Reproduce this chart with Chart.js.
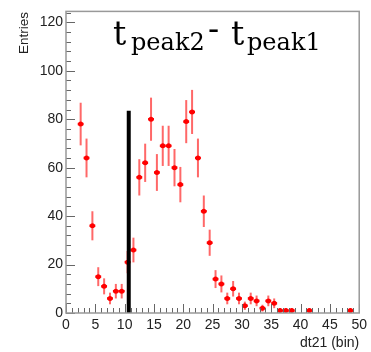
<!DOCTYPE html>
<html>
<head>
<meta charset="utf-8">
<script src="https://cdn.jsdelivr.net/npm/chart.js@4"></script>
<style>
  html, body { margin: 0; padding: 0; background: #fff; }
  #wrap { position: relative; width: 371px; height: 352px; }
  canvas { position: absolute; left: 0; top: 0; }
  .tt { position: absolute; font-family: "DejaVu Serif", serif; line-height: 1; white-space: nowrap; color: #000; }
  .big { font-size: 33px; }
  .small { font-size: 24px; }
  #ytitle { position: absolute; left: 17px; top: 54px; font: 13.5px "Liberation Sans", Arial, sans-serif; line-height: 13px; color: #222; white-space: nowrap; transform-origin: 0 0; transform: rotate(-90deg); }
</style>
</head>
<body>
<div id="wrap">
  <canvas id="c" width="371" height="352"></canvas>
  <span id="ytitle"></span>
  <span class="tt big" style="left:113px; top:17px;">t</span>
  <span class="tt small" style="left:131px; top:30px;">peak2</span>
  <span class="tt big" style="left:208px; top:12px;">-</span>
  <span class="tt big" style="left:231px; top:17px;">t</span>
  <span class="tt small" style="left:247px; top:30px;">peak1</span>
</div>
<script>
// ---- data ----
const binCenters = [2.5,3.5,4.5,5.5,6.5,7.5,8.5,9.5,10.5,11.5,12.5,13.5,14.5,15.5,16.5,17.5,18.5,19.5,20.5,21.5,22.5,23.5,24.5,25.5,26.5,27.5,28.5,29.5,30.5,31.5,32.5,33.5,34.5,35.5,36.5,37.5,38.5,41.5,48.5];
const counts     = [78,64,36,15,11,6,9,9,21,26,56,62,80,58,69,69,60,53,79,83,64,42,29,14,12,6,10,6,3,6,5,2,5,4,1,1,1,1,1];
const errors     = [8.8,8,6,3.9,3.3,2.4,3,3,4.6,5.1,7.5,7.9,8.9,7.6,8.3,8.3,7.7,7.3,8.9,9.1,8,6.5,5.4,3.7,3.5,2.4,3.2,2.4,1.7,2.4,2.2,1.4,2.2,2,1,1,1,1,1];
const binHalfWidth = 0.5;
const cutLineX = [10.7, 10.7];
const cutLineY = [0, 83.5];
const xRange = [0, 50];
const yRange = [0, 124.5];
const xTickLabels = [0,5,10,15,20,25,30,35,40,45,50];
const xMinorStep = 1;
const yTickLabels = [0,20,40,60,80,100,120];
const yMinorStep = 4;
const xTitle = 'dt21 (bin)';
const yTitle = 'Entries';

document.getElementById('ytitle').textContent = yTitle;

const points = binCenters.map((x, i) => ({ x: x, y: counts[i], err: errors[i] }));
const cutLine = cutLineX.map((x, i) => ({ x: x, y: cutLineY[i] }));

function stepTicks(min, max, step) {
  const t = [];
  for (let v = min; v <= max + 1e-9; v += step) t.push({ value: Math.round(v * 1000) / 1000 });
  return t;
}

const errorBars = {
  id: 'errorBars',
  beforeDatasetDraw(chart, args) {
    if (args.index !== 0) return;
    const ctx = chart.ctx, xs = chart.scales.x, ys = chart.scales.y;
    ctx.save();
    points.forEach(p => {
      const px = xs.getPixelForValue(p.x);
      const y1 = ys.getPixelForValue(Math.max(p.y - p.err, 0));
      const y2 = ys.getPixelForValue(p.y + p.err);
      ctx.strokeStyle = 'rgba(255,40,40,0.7)';
      ctx.lineWidth = 2;
      ctx.beginPath(); ctx.moveTo(px, y1); ctx.lineTo(px, y2); ctx.stroke();
      const xa = xs.getPixelForValue(p.x - binHalfWidth);
      const xb = xs.getPixelForValue(p.x + binHalfWidth);
      const py = ys.getPixelForValue(p.y);
      ctx.strokeStyle = '#ff0000';
      ctx.lineWidth = 2.5;
      ctx.beginPath(); ctx.moveTo(xa, py); ctx.lineTo(xb, py); ctx.stroke();
    });
    ctx.restore();
  }
};

const frameTicks = {
  id: 'frameTicks',
  afterDraw(chart) {
    const ctx = chart.ctx, a = chart.chartArea, xs = chart.scales.x, ys = chart.scales.y;
    ctx.save();
    ctx.strokeStyle = '#666';
    ctx.lineWidth = 1;
    ys.ticks.forEach(t => {
      const py = Math.round(ys.getPixelForValue(t.value)) + 0.5;
      const len = yTickLabels.includes(t.value) ? 9 : 5;
      ctx.beginPath(); ctx.moveTo(a.left, py); ctx.lineTo(a.left + len, py); ctx.stroke();
    });
    xs.ticks.forEach(t => {
      const px = Math.round(xs.getPixelForValue(t.value)) + 0.5;
      const len = xTickLabels.includes(t.value) ? 9 : 5;
      ctx.beginPath(); ctx.moveTo(px, a.bottom); ctx.lineTo(px, a.bottom - len); ctx.stroke();
    });
    ctx.strokeStyle = '#999';
    ctx.lineWidth = 1.5;
    ctx.strokeRect(a.left, a.top, a.right - a.left, a.bottom - a.top);
    ctx.restore();
  }
};

const tickFont = { family: '"Liberation Sans", Arial, sans-serif', size: 14 };

new Chart(document.getElementById('c'), {
  type: 'scatter',
  data: {
    datasets: [
      { data: points, pointRadius: 2.5, pointHoverRadius: 2.5, backgroundColor: '#ff0000', borderWidth: 0, order: 2 },
      { type: 'line', data: cutLine, borderColor: '#000', borderWidth: 4, pointRadius: 0, fill: false, order: 1 }
    ]
  },
  options: {
    responsive: false,
    animation: false,
    devicePixelRatio: 1,
    layout: { padding: { left: 23, right: 4, top: 9, bottom: 0 } },
    plugins: { legend: { display: false }, tooltip: { enabled: false } },
    scales: {
      x: {
        type: 'linear', min: xRange[0], max: xRange[1],
        afterBuildTicks: s => { s.ticks = stepTicks(xRange[0], xRange[1], xMinorStep); },
        afterFit: s => { s.height = 39; },
        grid: { display: false, drawTicks: false },
        border: { display: false },
        ticks: {
          autoSkip: false, maxRotation: 0, padding: 4, color: '#222', font: tickFont,
          callback: v => xTickLabels.includes(v) ? String(v) : ''
        },
        title: { display: true, text: xTitle, align: 'end', color: '#222', font: tickFont, padding: 0 }
      },
      y: {
        type: 'linear', min: yRange[0], max: yRange[1],
        afterBuildTicks: s => { s.ticks = stepTicks(yRange[0], 124, yMinorStep); },
        afterFit: s => { s.width = 43; },
        grid: { display: false, drawTicks: false },
        border: { display: false },
        ticks: {
          autoSkip: false, padding: 3, color: '#222', font: tickFont,
          callback: v => yTickLabels.includes(v) ? String(v) : ''
        },
        title: { display: false }
      }
    }
  },
  plugins: [errorBars, frameTicks]
});
</script>
</body>
</html>
